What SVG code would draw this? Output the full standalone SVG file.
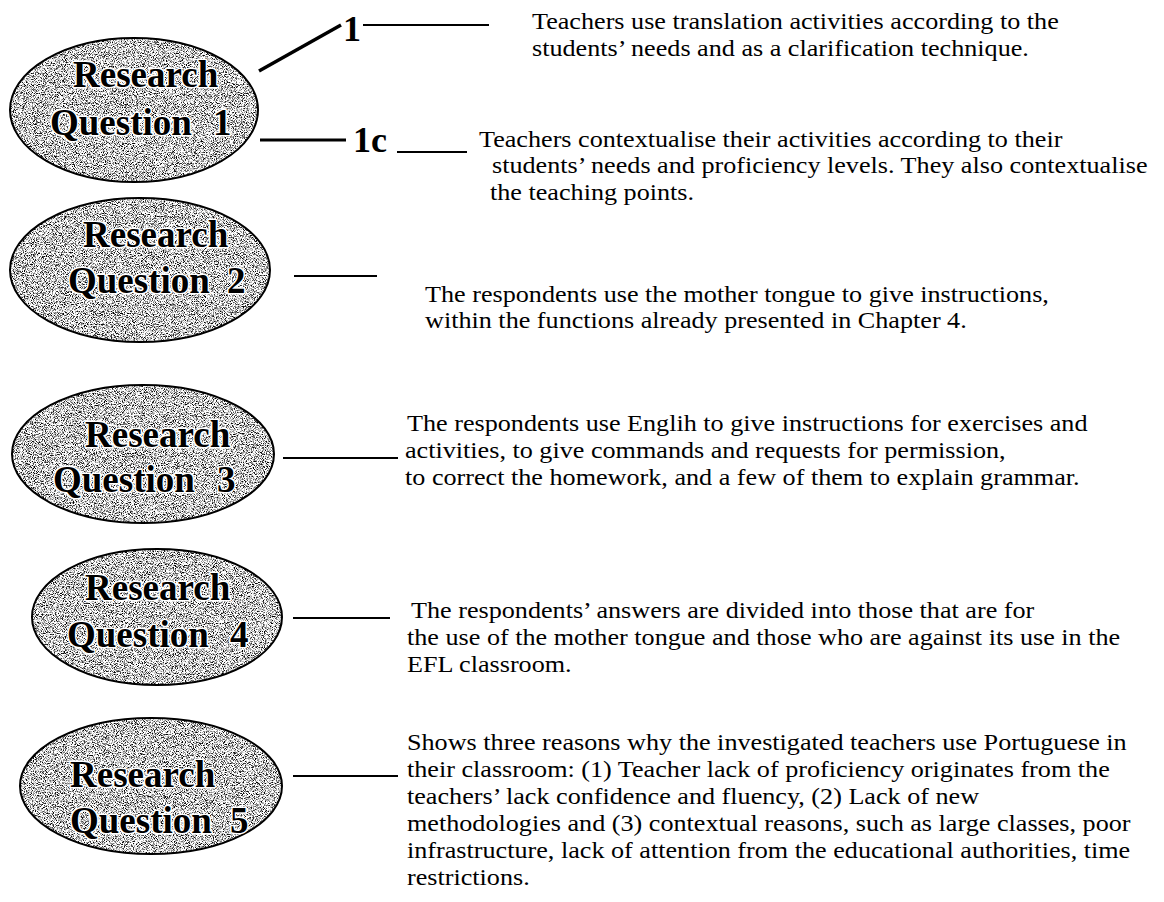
<svg xmlns="http://www.w3.org/2000/svg" width="1164" height="902" viewBox="0 0 1164 902">
<defs>
<filter id="stip" x="0" y="0" width="1" height="1" color-interpolation-filters="sRGB">
<feTurbulence type="fractalNoise" baseFrequency="1.1" numOctaves="2" seed="7" result="n"/>
<feColorMatrix in="n" type="matrix" values="3.6 0 0 0 -1.0  3.6 0 0 0 -1.0  3.6 0 0 0 -1.0  0 0 0 0 1" result="g"/>
<feComposite in="g" in2="SourceGraphic" operator="in"/>
</filter>
<style>
.fill{fill:#000;filter:url(#stip)}
.edge{fill:none;stroke:#000;stroke-width:2}
.q{font-family:"Liberation Serif",serif;font-weight:bold;font-size:37px;fill:#000;stroke:#fff;stroke-width:3;paint-order:stroke;stroke-linejoin:round}
.n{font-family:"Liberation Serif",serif;font-weight:bold;font-size:36px;fill:#000}
.d{font-family:"Liberation Serif",serif;font-size:24px;fill:#000}
.c line{stroke:#000;stroke-width:2;stroke-linecap:butt}
</style>
</defs>
<rect width="1164" height="902" fill="#fff"/>

<g id="rq1">
<ellipse class="fill" cx="134" cy="110" rx="124" ry="72"/>
<ellipse class="edge" cx="134" cy="110" rx="124" ry="72"/>
<text class="q" x="73" y="87">Research</text>
<text class="q" y="135"><tspan x="50">Question</tspan><tspan x="213">1</tspan></text>
</g>
<g id="rq2">
<ellipse class="fill" cx="140" cy="270" rx="130" ry="72"/>
<ellipse class="edge" cx="140" cy="270" rx="130" ry="72"/>
<text class="q" x="83" y="247">Research</text>
<text class="q" y="293"><tspan x="68">Question</tspan><tspan x="227">2</tspan></text>
</g>
<g id="rq3">
<ellipse class="fill" cx="143" cy="454" rx="131" ry="69"/>
<ellipse class="edge" cx="143" cy="454" rx="131" ry="69"/>
<text class="q" x="85" y="447">Research</text>
<text class="q" y="492"><tspan x="53">Question</tspan><tspan x="217">3</tspan></text>
</g>
<g id="rq4">
<ellipse class="fill" cx="157" cy="617" rx="125" ry="68"/>
<ellipse class="edge" cx="157" cy="617" rx="125" ry="68"/>
<text class="q" x="85" y="600">Research</text>
<text class="q" y="647"><tspan x="67">Question</tspan><tspan x="230">4</tspan></text>
</g>
<g id="rq5">
<ellipse class="fill" cx="151" cy="786" rx="131" ry="68"/>
<ellipse class="edge" cx="151" cy="786" rx="131" ry="68"/>
<text class="q" x="70" y="787">Research</text>
<text class="q" y="833"><tspan x="70">Question</tspan><tspan x="230">5</tspan></text>
</g>

<g id="connectors" class="c">
<line x1="259" y1="71" x2="341" y2="25" style="stroke-width:3.5"/>
<line x1="363" y1="25" x2="489" y2="25"/>
<line x1="260" y1="140" x2="346" y2="140" style="stroke-width:3"/>
<line x1="397" y1="152" x2="467" y2="152"/>
<line x1="294" y1="276" x2="377" y2="276"/>
<line x1="283" y1="458" x2="398" y2="458"/>
<line x1="293" y1="618" x2="390" y2="618"/>
<line x1="293" y1="776" x2="398" y2="776"/>
</g>

<g id="labels">
<text class="n" x="343" y="41">1</text>
<text class="n" x="353" y="152">1c</text>
</g>

<g id="a1">
<text class="d" transform="translate(532,29) scale(1.09,1)">Teachers use translation activities according to the</text>
<text class="d" transform="translate(532,56) scale(1.09,1)">students’ needs and as a clarification technique.</text>
</g>
<g id="a1c">
<text class="d" transform="translate(479,147) scale(1.09,1)">Teachers contextualise their activities according to their</text>
<text class="d" transform="translate(492,173) scale(1.09,1)">students’ needs and proficiency levels. They also contextualise</text>
<text class="d" transform="translate(490,200) scale(1.09,1)">the teaching points.</text>
</g>
<g id="a2">
<text class="d" transform="translate(425,302) scale(1.09,1)">The respondents use the mother tongue to give instructions,</text>
<text class="d" transform="translate(425,328) scale(1.09,1)">within the functions already presented in Chapter 4.</text>
</g>
<g id="a3">
<text class="d" transform="translate(407,431) scale(1.09,1)">The respondents use Englih to give instructions for exercises and</text>
<text class="d" transform="translate(405,458) scale(1.09,1)">activities, to give commands and requests for permission,</text>
<text class="d" transform="translate(405,485) scale(1.09,1)">to correct the homework, and a few of them to explain grammar.</text>
</g>
<g id="a4">
<text class="d" transform="translate(411,618) scale(1.09,1)">The respondents’ answers are divided into those that are for</text>
<text class="d" transform="translate(407,645) scale(1.09,1)">the use of the mother tongue and those who are against its use in the</text>
<text class="d" transform="translate(407,672) scale(1.09,1)">EFL classroom.</text>
</g>
<g id="a5">
<text class="d" transform="translate(407,750) scale(1.09,1)">Shows three reasons why the investigated teachers use Portuguese in</text>
<text class="d" transform="translate(407,777) scale(1.09,1)">their classroom: (1) Teacher lack of proficiency originates from the</text>
<text class="d" transform="translate(407,804) scale(1.09,1)">teachers’ lack confidence and fluency, (2) Lack of new</text>
<text class="d" transform="translate(407,831) scale(1.09,1)">methodologies and (3) contextual reasons, such as large classes, poor</text>
<text class="d" transform="translate(407,858) scale(1.09,1)">infrastructure, lack of attention from the educational authorities, time</text>
<text class="d" transform="translate(407,885) scale(1.09,1)">restrictions.</text>
</g>
</svg>
